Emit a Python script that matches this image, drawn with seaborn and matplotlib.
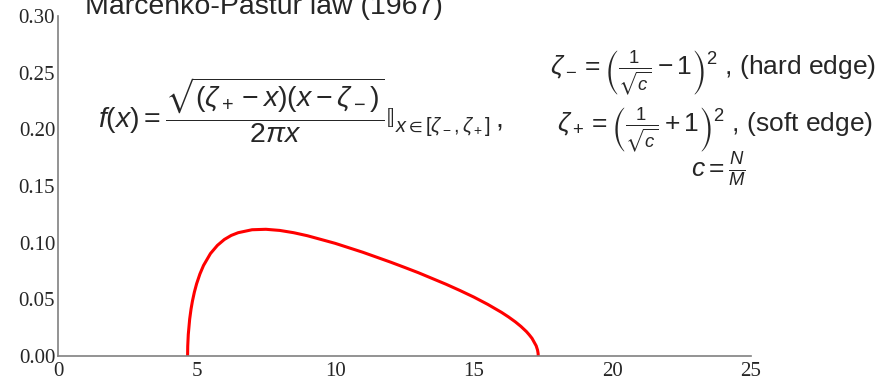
import matplotlib
matplotlib.use("Agg")
import matplotlib.pyplot as plt
import seaborn as sns
import pandas as pd

# Marcenko-Pastur density (c ~ 0.1)
x_vals = [4.675, 4.68, 4.70, 4.75, 4.80, 4.85, 4.92, 5.00, 5.12, 5.25, 5.50, 5.75,
          6.00, 6.25, 6.50, 7.00, 7.50, 8.00, 8.50, 9.00, 10.0, 11.0, 12.0, 12.5,
          13.0, 14.0, 14.5, 15.0, 15.5, 16.0, 16.25, 16.5, 16.7, 16.9, 17.0, 17.1,
          17.25, 17.30, 17.32, 17.325]
y_vals = [0.0, 0.0086, 0.0190, 0.0325, 0.0415, 0.0485, 0.0564, 0.0637, 0.0724, 0.0799,
          0.0904, 0.0976, 0.1028, 0.1064, 0.1088, 0.1114, 0.1118, 0.1108, 0.1088, 0.1061,
          0.0994, 0.0915, 0.0828, 0.0782, 0.0735, 0.0633, 0.0578, 0.0520, 0.0456, 0.0385,
          0.0345, 0.0301, 0.0261, 0.0215, 0.0187, 0.0156, 0.0090, 0.0052, 0.0023, 0.0]

x_ticks = [0, 5, 10, 15, 20, 25]
y_ticks = [0.00, 0.05, 0.10, 0.15, 0.20, 0.25, 0.30]
title = "Marcenko-Pastur law (1967)"

df = pd.DataFrame({"x": x_vals, "f": y_vals})

sns.set_style("white")
plt.rcParams["font.family"] = ["Liberation Sans", "DejaVu Sans"]
plt.rcParams["mathtext.fontset"] = "custom"
plt.rcParams["mathtext.rm"] = "Liberation Sans"
plt.rcParams["mathtext.it"] = "Liberation Sans:italic"
plt.rcParams["mathtext.sf"] = "Liberation Sans"
plt.rcParams["mathtext.fallback"] = "stix"

fig = plt.figure(figsize=(8.89, 3.80), dpi=100)
ax = fig.add_axes([58 / 889, 1 - 356 / 380, (751 - 58) / 889, (356 - 16) / 380])

sns.lineplot(data=df, x="x", y="f", ax=ax, color="#ff0000", lw=2.2, sort=False)

ax.set_xlim(0, 25)
ax.set_ylim(0, 0.30)
ax.set_xlabel("")
ax.set_ylabel("")
ax.set_xticks(x_ticks)
ax.set_xticklabels([str(t) for t in x_ticks], family="Liberation Serif", fontsize=15)
ax.set_yticks(y_ticks)
ax.set_yticklabels([f"{t:.2f}" for t in y_ticks], family="Liberation Serif", fontsize=15)
ax.set_xticks(range(0, 26), minor=True)
ax.set_yticks([i / 100 for i in range(31)], minor=True)
ax.tick_params(which="both", direction="in", color="#808080", width=0.9)
ax.tick_params(which="major", length=4.5, pad=2)
ax.tick_params(which="minor", length=2.2)
ax.tick_params(axis="x", pad=4)

for s in ["top", "right"]:
    ax.spines[s].set_visible(False)
for s in ["left", "bottom"]:
    ax.spines[s].set_color("#808080")
    ax.spines[s].set_linewidth(1.2)

fig.text(85 / 889, 1 - 14 / 380, title, fontsize=20.5, va="baseline", ha="left")

fig.text(300 / 889, 1 - 110 / 380,
         "$f(x) = \\dfrac{\\sqrt{(\\zeta_+ - x)(x - \\zeta_-)}}{2\\pi x}"
         "\U0001D540_{x\\in[\\zeta_-,\\zeta_+]}\\,,$",
         fontsize=20.5, ha="center", va="center")

fig.text(713 / 889, 1 - 73 / 380,
         r"$\zeta_- = \left(\frac{1}{\sqrt{c}} - 1\right)^2$ , (hard edge)",
         fontsize=19, ha="center", va="center")
fig.text(715 / 889, 1 - 130 / 380,
         r"$\zeta_+ = \left(\frac{1}{\sqrt{c}} + 1\right)^2$ , (soft edge)",
         fontsize=19, ha="center", va="center")
fig.text(718 / 889, 1 - 170 / 380, r"$c = \frac{N}{M}$",
         fontsize=19, ha="center", va="center")

fig.savefig("out.png", dpi=100)
